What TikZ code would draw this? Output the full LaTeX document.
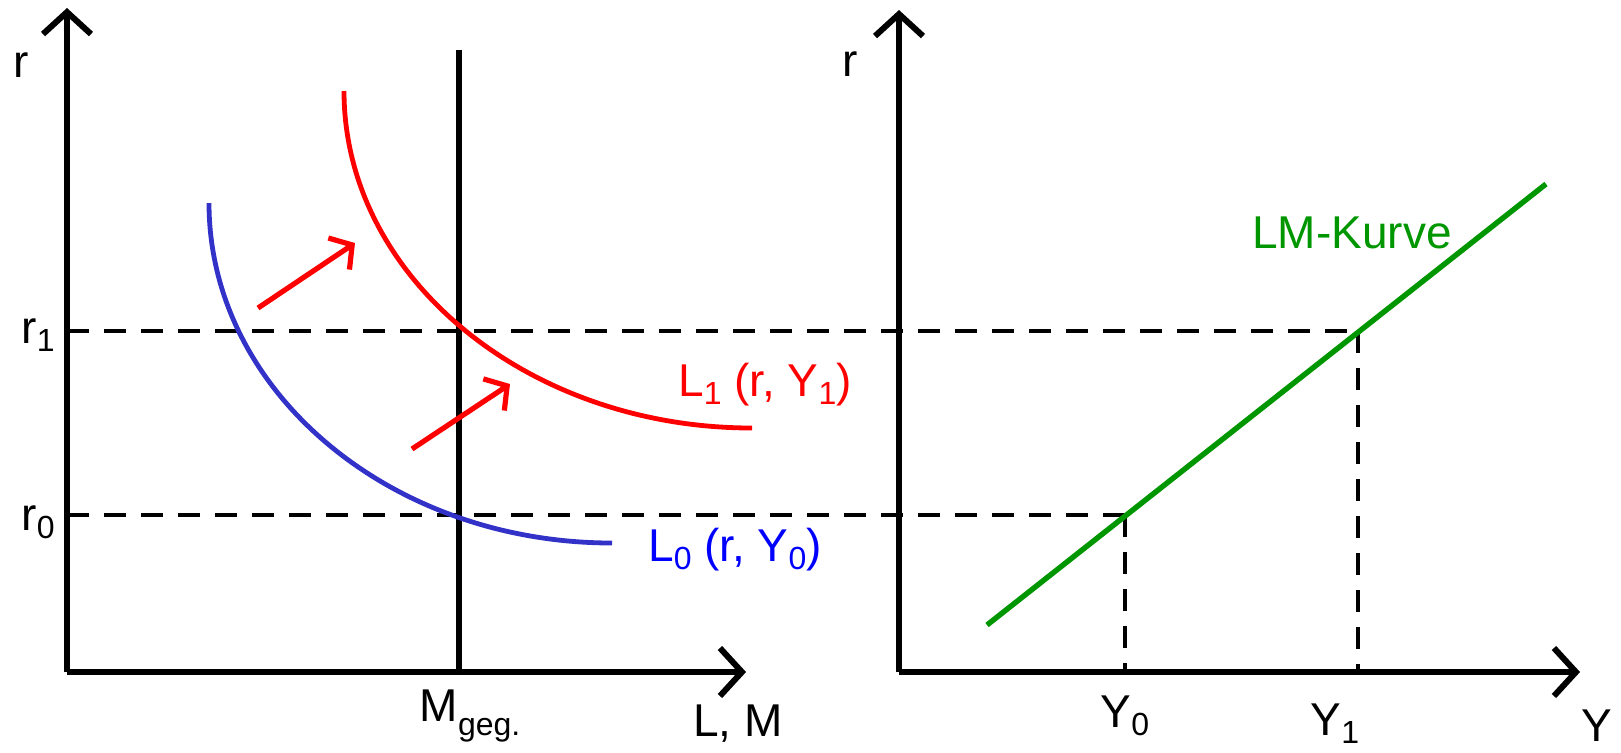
\documentclass[tikz,border=0pt]{standalone}
\usepackage{fontspec}
\setmainfont{Liberation Sans}
\usetikzlibrary{arrows.meta,positioning,calc}

\definecolor{curveblue}{RGB}{50,50,200}
\definecolor{lmgreen}{RGB}{0,150,0}

\newcommand{\lsub}[1]{\raisebox{-4pt}{\fontsize{16}{16}\selectfont #1}}

\tikzset{
	axis/.style={line width=3.2pt,-{Straight Barb[length=11pt,width=24pt,line width=3pt]}},
	guide/.style={line width=2.4pt,dash pattern=on 11pt off 7.5pt},
	shiftarrow/.style={red,line width=2.6pt,-{Straight Barb[length=8pt,width=19pt,line width=2.6pt]}},
	lab/.style={font=\fontsize{23}{23}\selectfont,inner sep=0pt}
}

\begin{document}
\begin{tikzpicture}[x=0.5pt,y=-0.5pt]
	\useasboundingbox (0,0) rectangle (1621,752);

	% left panel: money market
	\coordinate (O1) at (67,672);
	\coordinate (T1) at (67,8);
	\coordinate (X1) at (746,672);
	\coordinate (Mtop) at (459,50);
	\coordinate (Mbot) at (459,672);

	% right panel: LM curve
	\coordinate (O2) at (899,672);
	\coordinate (T2) at (899,10);
	\coordinate (X2) at (1580,672);
	\coordinate (LMa) at (987,625);
	\coordinate (LMb) at (1546,184);
	\coordinate (P0) at (1125,515);
	\coordinate (P1) at (1358,331);

	% curves
	\coordinate (L1a) at (344,91);
	\coordinate (L1b) at (752,428);
	\coordinate (L0a) at (209,203);
	\coordinate (L0b) at (612,543);

	\coordinate (s1a) at (258,308);
	\coordinate (s1b) at (355,243);
	\coordinate (s2a) at (412,449);
	\coordinate (s2b) at (510,384);

	% dashed guides
	\draw[guide] (O1 |- P1) -- (P1);
	\draw[guide] (O1 |- P0) -- (P0);
	\draw[guide] (P0) -- (P0 |- O2);
	\draw[guide] (P1) -- (P1 |- O2);

	\draw[axis] (O1) -- (T1);
	\draw[axis] (O1) -- (X1);
	\draw[line width=3.2pt] (Mbot) -- (Mtop);
	\draw[axis] (O2) -- (T2);
	\draw[axis] (O2) -- (X2);

	\draw[red,line width=2.4pt] (L1a) .. controls (344,277) and (527,428) .. (L1b);
	\draw[curveblue,line width=2.4pt] (L0a) .. controls (209,391) and (390,543) .. (L0b);
	\draw[lmgreen,line width=2.7pt] (LMa) -- (LMb);

	\draw[shiftarrow] (s1a) -- (s1b);
	\draw[shiftarrow] (s2a) -- (s2b);

	% labels
	\node[lab] (rL) at (21,65) {r};
	\node[lab] (r1) at (38,335) {r\lsub{1}};
	\node[lab] (r0) at (38,522) {r\lsub{0}};
	\node[lab] (Mg) at (470,716) {M\raisebox{-7pt}{\fontsize{16}{16}\selectfont geg.}};
	\node[lab] (LM) at (738,724) {L, M};
	\node[lab,red] (L1) at (765,385) {L\lsub{1} (r, Y\lsub{1})};
	\node[lab,blue] (L0) at (735,550) {L\lsub{0} (r, Y\lsub{0})};
	\node[lab] (rR) at (850,64) {r};
	\node[lab] (Y0) at (1125,716) {Y\lsub{0}};
	\node[lab] (Y1) at (1335,724) {Y\lsub{1}};
	\node[lab] (Y) at (1597,726) {Y};
	\node[lab,lmgreen] (LMk) at (1352,233) {LM-Kurve};
\end{tikzpicture}
\end{document}
